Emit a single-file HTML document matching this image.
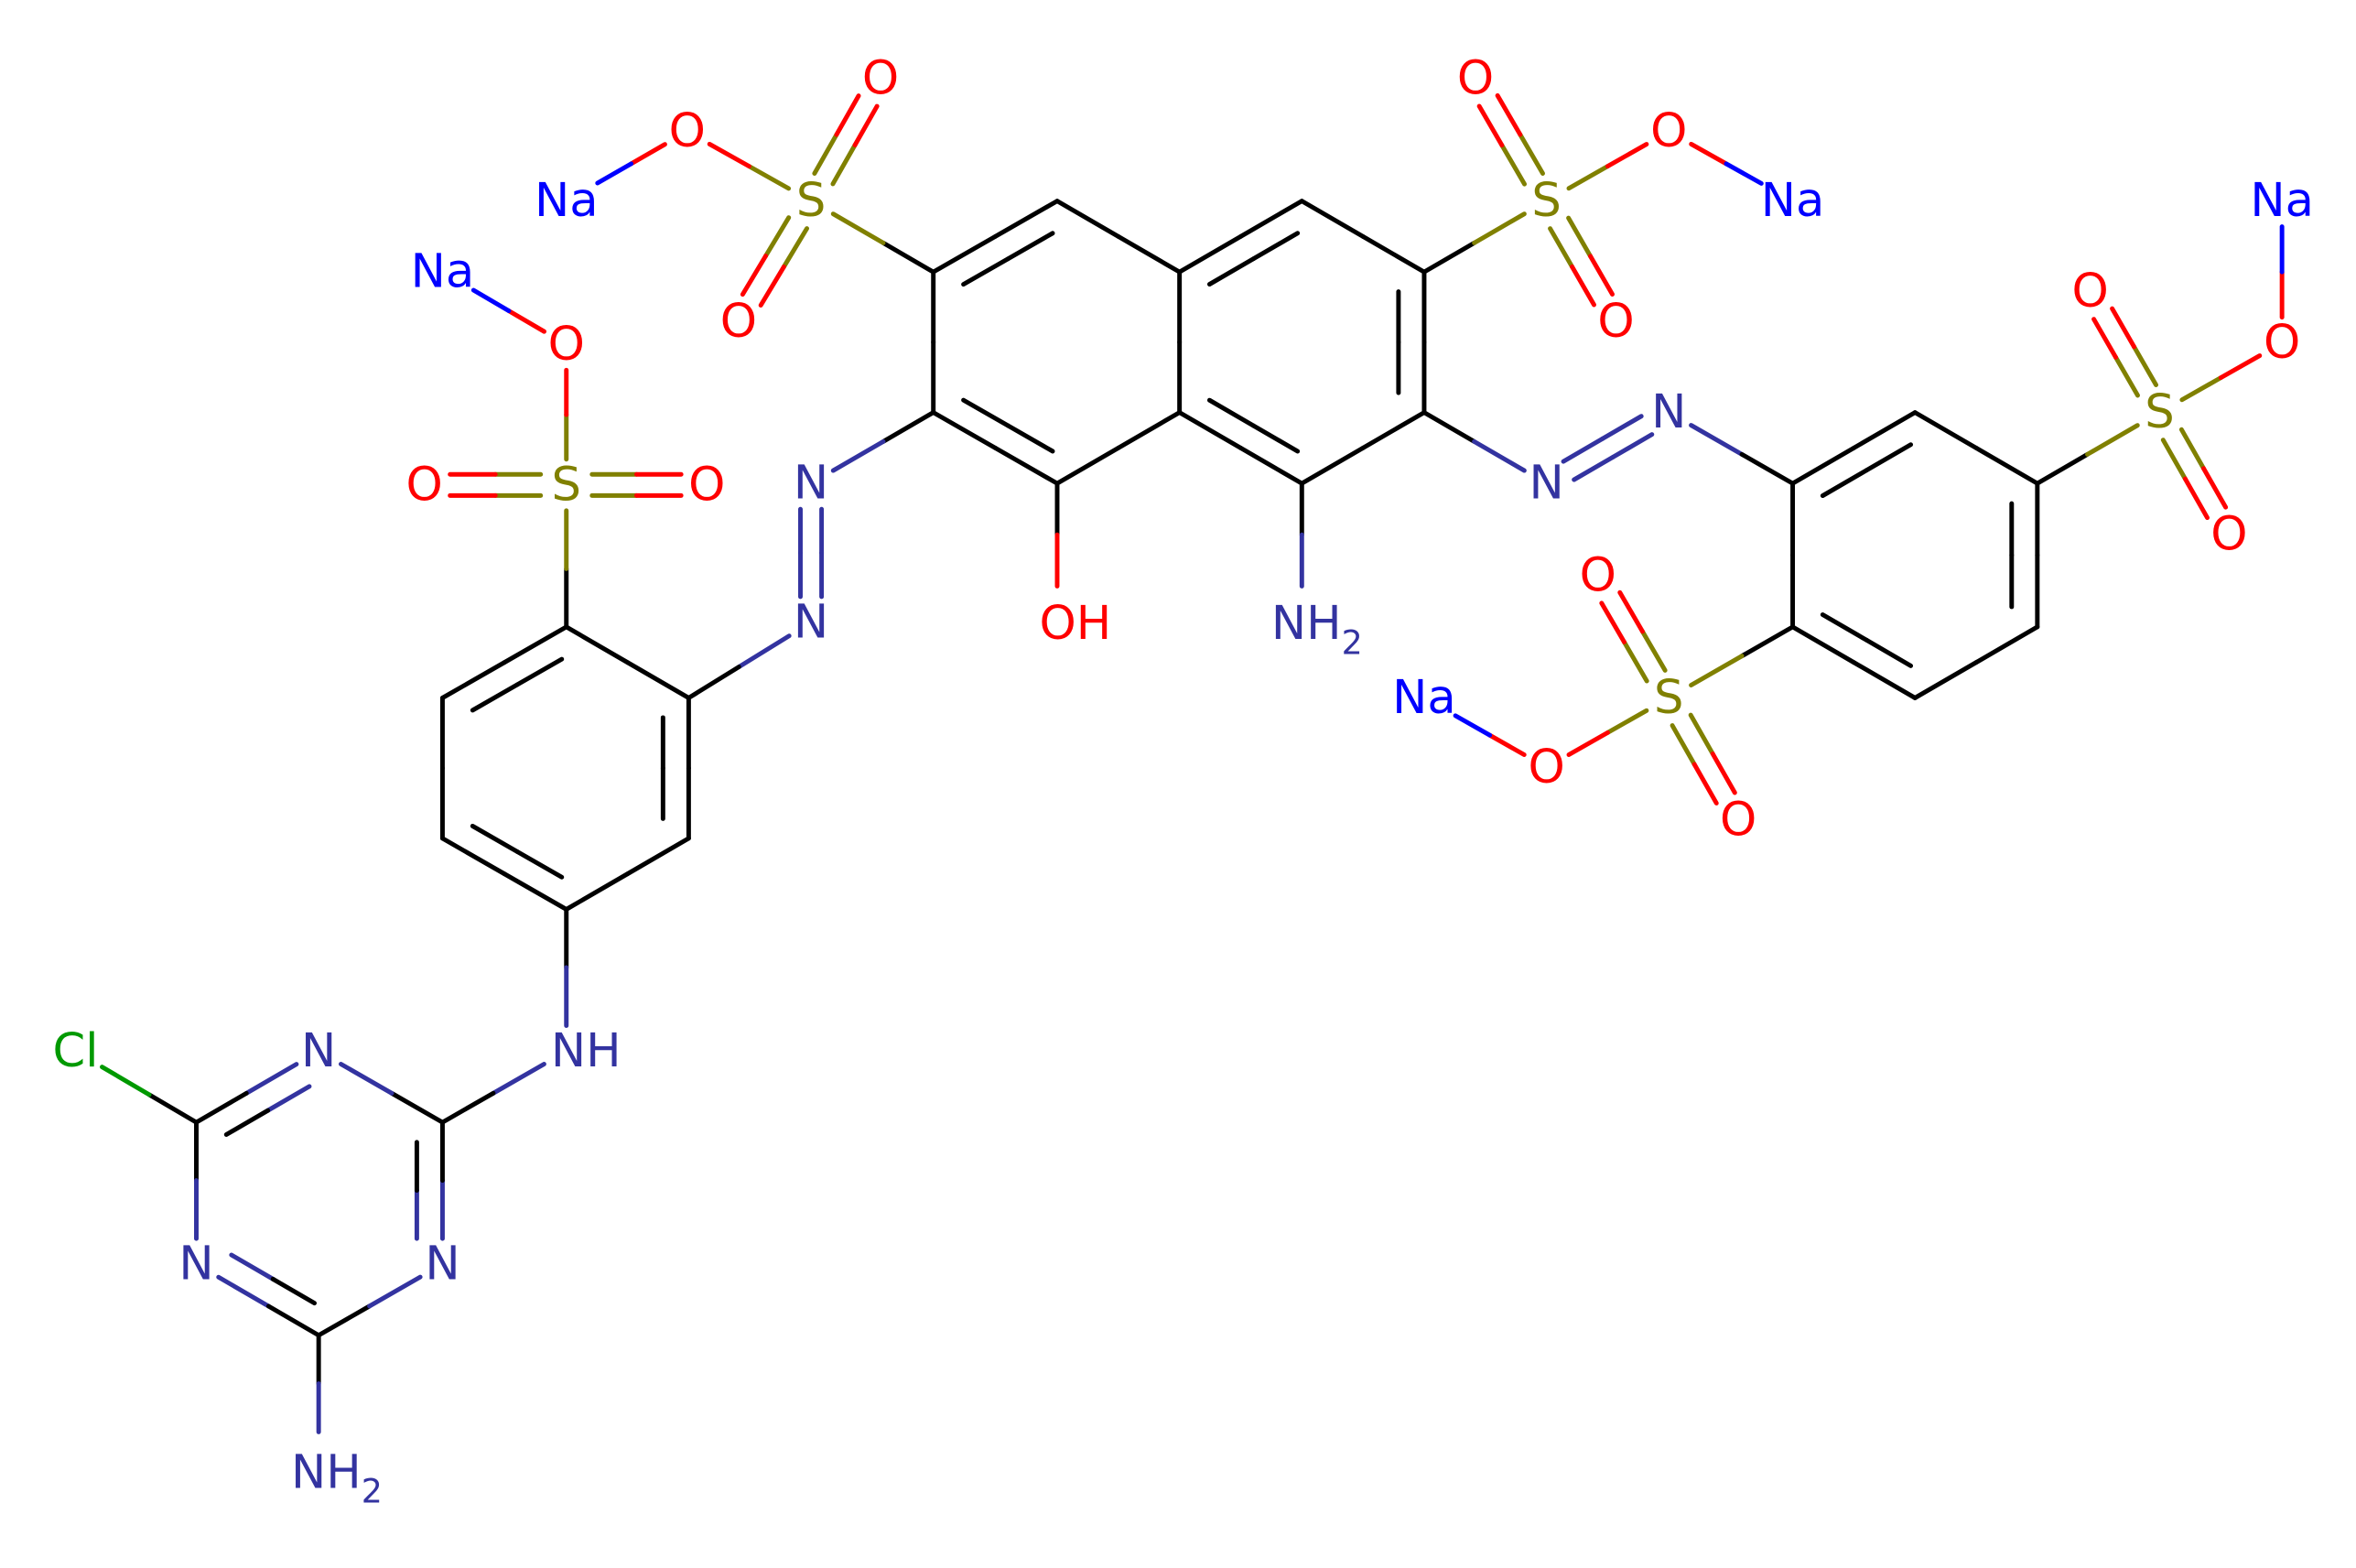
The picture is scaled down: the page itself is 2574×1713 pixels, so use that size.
<!DOCTYPE html>
<html><head><meta charset="utf-8"><style>
html,body{margin:0;padding:0;background:#fff;}
svg{display:block}
text{font-family:"DejaVu Sans","Liberation Sans",sans-serif;font-size:31px;dominant-baseline:central;text-anchor:middle}
</style></head><body>
<svg id="s" width="2574" height="1713" viewBox="0 0 1560 1038" xmlns="http://www.w3.org/2000/svg">
<rect width="1560" height="1038" fill="#fff"/>
<g id="bonds"></g>
<g>
<text x="712" y="413" fill="#ff0000">OH</text>
<text x="872" y="413" fill="#3333a0">NH<tspan font-size="22" dy="12">2</tspan></text>
<text x="537" y="133" fill="#808000">S</text>
<text x="583" y="52" fill="#ff0000">O</text>
<text x="489" y="213" fill="#ff0000">O</text>
<text x="455" y="87" fill="#ff0000">O</text>
<text x="375" y="133" fill="#0000ff">Na</text>
<text x="1024" y="133" fill="#808000">S</text>
<text x="977" y="52" fill="#ff0000">O</text>
<text x="1070" y="213" fill="#ff0000">O</text>
<text x="1105" y="87" fill="#ff0000">O</text>
<text x="1187" y="133" fill="#0000ff">Na</text>
<text x="537" y="320" fill="#3333a0">N</text>
<text x="537" y="412" fill="#3333a0">N</text>
<text x="375" y="321" fill="#808000">S</text>
<text x="281" y="321" fill="#ff0000">O</text>
<text x="468" y="321" fill="#ff0000">O</text>
<text x="375" y="228" fill="#ff0000">O</text>
<text x="293" y="180" fill="#0000ff">Na</text>
<text x="388" y="696" fill="#3333a0">NH</text>
<text x="211" y="696" fill="#3333a0">N</text>
<text x="130" y="837" fill="#3333a0">N</text>
<text x="293" y="837" fill="#3333a0">N</text>
<text x="50" y="696" fill="#009900">Cl</text>
<text x="223" y="975" fill="#3333a0">NH<tspan font-size="22" dy="12">2</tspan></text>
<text x="1024" y="320" fill="#3333a0">N</text>
<text x="1105" y="273" fill="#3333a0">N</text>
<text x="1430" y="273" fill="#808000">S</text>
<text x="1384" y="193" fill="#ff0000">O</text>
<text x="1476" y="354" fill="#ff0000">O</text>
<text x="1511" y="227" fill="#ff0000">O</text>
<text x="1511" y="133" fill="#0000ff">Na</text>
<text x="1105" y="462" fill="#808000">S</text>
<text x="1058" y="381" fill="#ff0000">O</text>
<text x="1151" y="543" fill="#ff0000">O</text>
<text x="1024" y="508" fill="#ff0000">O</text>
<text x="943" y="462" fill="#0000ff">Na</text>
</g>
</svg>
<script>
var K='#000',N='#3333a0',O='#ff0000',S='#808000',Na='#0000ff',Cl='#009900';
var A={
a1:[700,133,K,0],a2:[618,180,K,0],a3:[618,273,K,0],a4:[700,320,K,0],a5:[781,273,K,0],a6:[781,180,K,0],
b1:[862,133,K,0],b2:[943,180,K,0],b3:[943,273,K,0],b4:[862,320,K,0],
oh:[700,405,O,1],nh2:[862,405,N,1],
s1:[537,133,S,1],o11:[583,52,O,1],o12:[489,213,O,1],o13:[455,87,O,1],na1:[375,133,Na,1.4],
s2:[1024,133,S,1],o21:[977,52,O,1],o22:[1070,213,O,1],o23:[1105,87,O,1],na2:[1187,133,Na,1.4],
n1:[537,320,N,1],n2:[537,412,N,1],
c1:[456,462,K,0],c2:[375,415,K,0],c3:[293,462,K,0],c4:[293,555,K,0],c5:[375,602,K,0],c6:[456,555,K,0],
s3:[375,321,S,1],o31:[281,321,O,1],o32:[468,321,O,1],o33:[375,228,O,1],na3:[293,180,Na,1.4],
nh:[375,696,N,1],
t1:[293,743,K,0],tn1:[211,696,N,1],t3:[130,743,K,0],tn2:[130,837,N,1],t5:[211,884,K,0],tn3:[293,837,N,1],
cl:[50,696,Cl,1.2],tnh2:[211,965,N,1],
n3:[1024,320,N,1],n4:[1105,273,N,1],
r1:[1187,320,K,0],r2:[1268,273,K,0],r3:[1349,320,K,0],r4:[1349,415,K,0],r5:[1268,462,K,0],r6:[1187,415,K,0],
s4:[1430,273,S,1],o41:[1384,193,O,1],o42:[1476,354,O,1],o43:[1511,227,O,1],na4:[1511,133,Na,1],
s5:[1105,462,S,1],o51:[1058,381,O,1],o52:[1151,543,O,1],o53:[1024,508,O,1],na5:[943,462,Na,1.4]
};
var g=document.getElementById('bonds'),ns='http://www.w3.org/2000/svg';
function ln(x1,y1,x2,y2,c){var l=document.createElementNS(ns,'line');l.setAttribute('x1',x1);l.setAttribute('y1',y1);l.setAttribute('x2',x2);l.setAttribute('y2',y2);l.setAttribute('stroke',c);l.setAttribute('stroke-width',3);l.setAttribute('stroke-linecap','round');g.appendChild(l);}
function seg(a,b,off){var p=A[a],q=A[b];var dx=q[0]-p[0],dy=q[1]-p[1],L=Math.hypot(dx,dy),ux=dx/L,uy=dy/L;var nx=-uy*off,ny=ux*off;
var sa=p[3]?17*p[3]:0,sb=q[3]?17*q[3]:0;
var x1=p[0]+ux*sa+nx,y1=p[1]+uy*sa+ny,x2=q[0]-ux*sb+nx,y2=q[1]-uy*sb+ny,mx=(x1+x2)/2,my=(y1+y2)/2;
ln(x1,y1,mx,my,p[2]);ln(mx,my,x2,y2,q[2]);}
function b(a,c){seg(a,c,0);}
function d(a,c){seg(a,c,7);seg(a,c,-7);}
function inner(a,c,cx,cy){var p=A[a],q=A[c];var dx=q[0]-p[0],dy=q[1]-p[1],L=Math.hypot(dx,dy),ux=dx/L,uy=dy/L;var nx=-uy,ny=ux;
var mx=(p[0]+q[0])/2,my=(p[1]+q[1])/2;if((cx-mx)*nx+(cy-my)*ny<0){nx=-nx;ny=-ny;}
var o=17,sh=L*0.14;var sa=p[3]?17:sh,sb=q[3]?17:sh;
var x1=p[0]+ux*sa+nx*o,y1=p[1]+uy*sa+ny*o,x2=q[0]-ux*sb+nx*o,y2=q[1]-uy*sb+ny*o,xm=(x1+x2)/2,ym=(y1+y2)/2;
ln(x1,y1,xm,ym,p[2]);ln(xm,ym,x2,y2,q[2]);}
// naphthalene
b('a1','a2');b('a2','a3');b('a3','a4');b('a4','a5');b('a5','a6');b('a6','a1');
b('a6','b1');b('b1','b2');b('b2','b3');b('b3','b4');b('b4','a5');
inner('a1','a2',700,227);inner('a3','a4',700,227);inner('a6','b1',862,227);inner('b2','b3',862,227);inner('b4','a5',862,227);
b('a4','oh');b('b4','nh2');
// sulfonate 1
b('a2','s1');d('s1','o11');d('s1','o12');b('s1','o13');b('o13','na1');
b('b2','s2');d('s2','o21');d('s2','o22');b('s2','o23');b('o23','na2');
// azo left
b('a3','n1');d('n1','n2');b('n2','c1');
b('c1','c2');b('c2','c3');b('c3','c4');b('c4','c5');b('c5','c6');b('c6','c1');
inner('c2','c3',375,508);inner('c4','c5',375,508);inner('c6','c1',375,508);
b('c2','s3');d('s3','o31');d('s3','o32');b('s3','o33');b('o33','na3');
b('c5','nh');b('nh','t1');
b('t1','tn1');b('tn1','t3');b('t3','tn2');b('tn2','t5');b('t5','tn3');b('tn3','t1');
inner('tn1','t3',211,790);inner('tn3','t1',211,790);inner('tn2','t5',211,790);
b('t3','cl');b('t5','tnh2');
// azo right
b('b3','n3');d('n3','n4');b('n4','r1');
b('r1','r2');b('r2','r3');b('r3','r4');b('r4','r5');b('r5','r6');b('r6','r1');
inner('r1','r2',1268,367);inner('r3','r4',1268,367);inner('r5','r6',1268,367);
b('r3','s4');d('s4','o41');d('s4','o42');b('s4','o43');b('o43','na4');
b('r6','s5');d('s5','o51');d('s5','o52');b('s5','o53');b('o53','na5');
</script>
</body></html>
